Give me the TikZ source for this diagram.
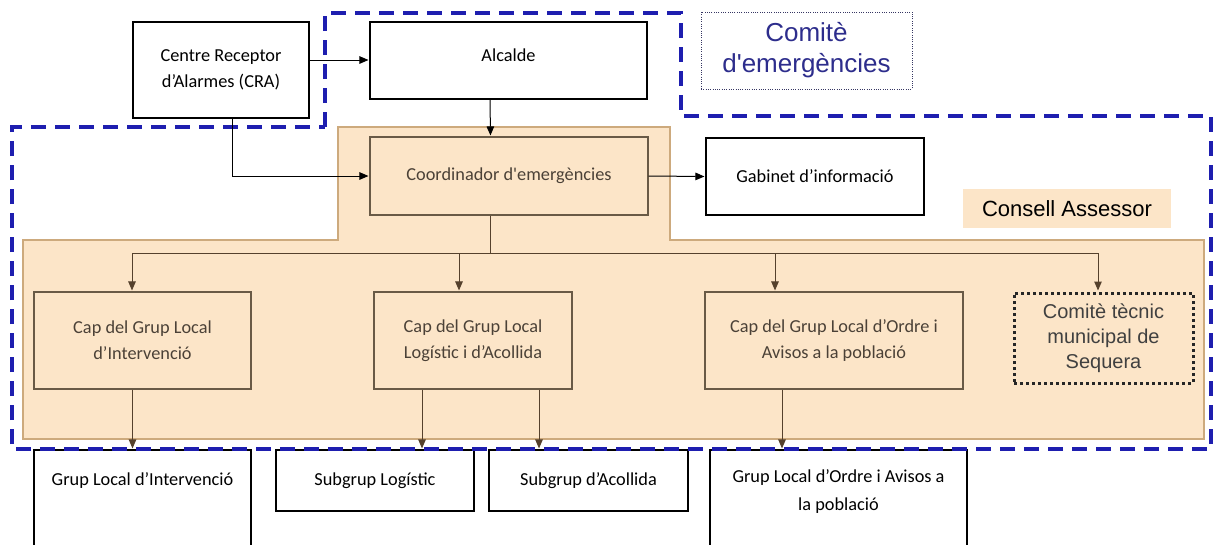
\documentclass[tikz,border=0pt]{standalone}
\usepackage{fontspec}
\setmainfont{Carlito}
\newfontfamily\arialf{Liberation Sans}
\usetikzlibrary{positioning, arrows.meta}
\definecolor{peach}{RGB}{252,229,200}
\definecolor{tanline}{RGB}{205,170,125}
\definecolor{boxline}{RGB}{105,90,70}
\definecolor{arrbrn}{RGB}{85,65,45}
\definecolor{captext}{RGB}{75,65,55}
\definecolor{cablue}{RGB}{30,30,175}
\definecolor{ceblue}{RGB}{45,45,140}
\definecolor{dotline}{RGB}{55,55,100}

\begin{document}
\begin{tikzpicture}[x=1pt, y=-1pt,
    box/.style={draw, line width=1.1pt, fill=white, align=center,
      font=\fontsize{18.3}{26}\selectfont},
    capbox/.style={box, draw=boxline, fill=peach, text=captext},
    arr/.style={-{Triangle[length=9pt,width=7.5pt]}, line width=1pt, shorten >=1pt},
    barr/.style={arr, draw=arrbrn}]
    \tikzset{comite/.style={align=center, font=\arialf\fontsize{20}{25}\selectfont}}

    \useasboundingbox (0,0) rectangle (1213,544);

    % Consell Assessor area
    \draw[draw=tanline, fill=peach, line width=1.2pt]
        (338,127) -- (670,127) -- (670,240) -- (1204,240) -- (1204,439)
        -- (23,439) -- (23,240) -- (338,240) -- cycle;

    \node[box, minimum width=176pt, minimum height=96pt] (cra) at (221,70) {Centre Receptor\\d’Alarmes (CRA)};
    \node[box, minimum width=277pt, minimum height=77pt, text depth=10pt] (alc) at (508.5,60.5) {Alcalde};
    \node[draw=dotline, line width=1pt, dash pattern=on 1pt off 1.3pt, comite, text=ceblue,
        font=\arialf\fontsize{26}{31}\selectfont, minimum width=211pt, minimum height=77pt]
        (cemer) at (806.5,50.5) {Comitè\\d\textquotesingle emergències};

    \node[capbox, minimum width=278pt, minimum height=78pt] (coord) at (509,176) {Coordinador d\textquotesingle emergències};
    \node[box, minimum width=218pt, minimum height=77pt] (gab) at (815,176.5) {Gabinet d’informació};
    \node[fill=peach, minimum width=208pt, minimum height=39pt, font=\arialf\fontsize{22}{26}\selectfont]
        (cons) at (1067,208.5) {Consell Assessor};

    \node[capbox, minimum width=217pt, minimum height=97pt] (capint) at (142.5,340.5) {Cap del Grup Local\\d’Intervenció};
    \node[capbox, minimum width=198pt, minimum height=97pt] (caplog) at (473,340.5) {Cap del Grup Local\\Logístic i d’Acollida};
    \node[capbox, minimum width=258pt, minimum height=97pt] (capord) at (834,340.5) {Cap del Grup Local d’Ordre i\\Avisos a la població};
    \node[comite, draw=black!85, fill=peach, text=black!75, line width=3pt, dash pattern=on 3pt off 3pt,
        minimum width=179pt, minimum height=90pt] (ctec) at (1103.5,338) {Comitè tècnic\\municipal de\\Sequera};

    % groups, cut by the lower edge
    \node[box, minimum width=217pt, minimum height=110pt] (gli) at (142.5,505) {};
    \node[align=center, font=\fontsize{18.3}{26}\selectfont] (glitxt) at ([yshift=-31pt]gli.north) {Grup Local d’Intervenció};
    \node[box, minimum width=198pt, minimum height=61pt] (sgl) at (375,480.5) {Subgrup Logístic};
    \node[box, minimum width=199pt, minimum height=61pt] (sga) at (588.5,480.5) {Subgrup d’Acollida};
    \node[box, minimum width=257pt, minimum height=110pt] (glo) at (838.5,505) {};
    \node[align=center, font=\fontsize{18.3}{28}\selectfont] (glotxt) at ([yshift=-42pt]glo.north) {Grup Local d’Ordre i Avisos a\\la població};

    % Comitè d'emergències
    \draw[cablue, line width=3.5pt, dash pattern=on 15pt off 9pt]
        (325,127) -- (325,13) -- (681,13) -- (681,116) -- (1211,116)
        -- (1211,449) -- (12,449) -- (12,127) -- cycle;

    \path[arr]
        (cra.east |- 0,60) edge (alc.west |- 0,60)
        ([xshift=-18.5pt]alc.south) edge ([xshift=-18.5pt]coord.north)
        (coord.east) edge (gab.west);
    \draw[arr] ([xshift=11pt]cra.south) |- (coord.west);

    \coordinate (br) at (490,253);
    \draw[draw=arrbrn, line width=1pt] ([xshift=-19pt]coord.south) -- (br);
    \foreach \n/\dx in {capint/-10.5, caplog/-14, capord/-59, ctec/-5.5}
        \draw[barr] (br) -| ([xshift=\dx pt]\n.north);

    \draw[barr] ([xshift=-10pt]capint.south) -- ([xshift=-10pt]capint.south |- gli.north);
    \draw[barr] ([xshift=-51pt]caplog.south) -- ([xshift=-51pt]caplog.south |- sgl.north);
    \draw[barr] ([xshift=66pt]caplog.south) -- ([xshift=66pt]caplog.south |- sga.north);
    \draw[barr] ([xshift=-52pt]capord.south) -- ([xshift=-52pt]capord.south |- glo.north);
\end{tikzpicture}
\end{document}
